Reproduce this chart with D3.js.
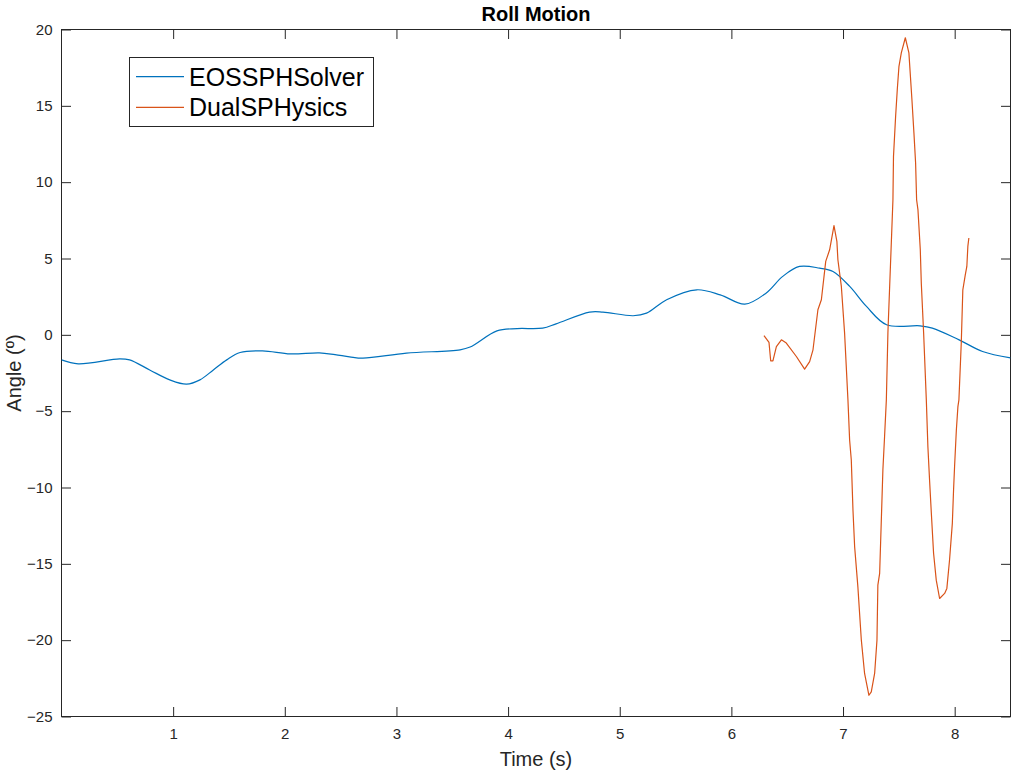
<!DOCTYPE html>
<html>
<head>
<meta charset="utf-8">
<script src="https://cdn.jsdelivr.net/npm/d3@7"></script>
<style>
  html, body { margin: 0; padding: 0; background: #fff; }
  svg { display: block; font-family: "Liberation Sans", Arial, Helvetica, sans-serif; }
</style>
</head>
<body>
<svg id="chart" width="1012" height="774"></svg>
<script>
// ---- data ----
const title = "Roll Motion";
const xLabel = "Time (s)";
const yLabel = "Angle (\u00BA)";
const seriesNames = ["EOSSPHSolver", "DualSPHysics"];
const seriesColors = ["#0072BD", "#D95319"];
const xTicks = [1, 2, 3, 4, 5, 6, 7, 8];
const yTicks = [-25, -20, -15, -10, -5, 0, 5, 10, 15, 20];

const eosTime = [0, 0.15, 0.52, 0.61, 0.79, 0.97, 1.12, 1.24, 1.36, 1.48, 1.6, 1.8, 2.05, 2.31, 2.45, 2.58, 2.7, 3.09, 3.57, 3.66, 3.9, 4.08, 4.31, 4.43, 4.73, 4.85, 5.12, 5.24, 5.42, 5.69, 5.9, 6.12, 6.31, 6.46, 6.61, 6.79, 6.91, 7.06, 7.21, 7.39, 7.69, 7.8, 8.04, 8.25, 8.5];
const eosAngle = [-1.64, -1.9, -1.57, -1.64, -2.3, -2.95, -3.23, -2.95, -2.3, -1.64, -1.16, -1.05, -1.25, -1.18, -1.3, -1.44, -1.53, -1.2, -0.98, -0.8, 0.26, 0.41, 0.44, 0.72, 1.49, 1.49, 1.25, 1.42, 2.3, 2.95, 2.62, 2.01, 2.73, 3.83, 4.48, 4.37, 4.15, 3.17, 1.86, 0.66, 0.59, 0.44, -0.33, -1.09, -1.51];

const dualTime = [6.292, 6.337, 6.352, 6.372, 6.403, 6.448, 6.492, 6.582, 6.656, 6.701, 6.731, 6.775, 6.806, 6.845, 6.880, 6.919, 6.945, 6.954, 6.985, 7.014, 7.044, 7.059, 7.074, 7.089, 7.104, 7.133, 7.164, 7.193, 7.232, 7.253, 7.283, 7.304, 7.312, 7.328, 7.343, 7.357, 7.372, 7.388, 7.402, 7.447, 7.452, 7.471, 7.486, 7.501, 7.522, 7.558, 7.590, 7.617, 7.635, 7.650, 7.659, 7.671, 7.692, 7.701, 7.722, 7.746, 7.760, 7.775, 7.791, 7.811, 7.835, 7.865, 7.910, 7.930, 7.954, 7.979, 7.990, 7.999, 8.015, 8.029, 8.038, 8.059, 8.073, 8.095, 8.109, 8.118, 8.127];
const dualAngle = [-0.05, -0.50, -1.70, -1.70, -0.77, -0.33, -0.54, -1.42, -2.25, -1.75, -0.98, 1.64, 2.30, 4.81, 5.57, 7.15, 6.12, 4.92, 3.17, 0.11, -4.26, -6.89, -8.20, -11.48, -13.88, -16.51, -20.00, -22.18, -23.61, -23.39, -22.18, -20.00, -16.39, -15.63, -12.13, -8.85, -6.67, -4.26, 0.13, 8.85, 11.69, 14.31, 16.07, 17.59, 18.47, 19.46, 18.47, 15.41, 13.23, 11.26, 8.85, 8.20, 5.57, 3.39, 0.11, -4.26, -7.32, -9.51, -11.69, -14.31, -16.07, -17.27, -16.94, -16.61, -14.75, -12.35, -10.16, -8.64, -6.23, -4.70, -4.26, -0.54, 2.95, 3.93, 4.48, 5.79, 6.34];

// ---- layout ----
const margin = { left: 61.5, right: 1010.5, top: 29.5, bottom: 716.5 };
const svg = d3.select("#chart");
const axisColor = "#262626";

const x = d3.scaleLinear().domain([0, 8.5]).range([margin.left, margin.right]);
const y = d3.scaleLinear().domain([-25, 20]).range([margin.bottom, margin.top]);

const tickLen = 9.5;

// box
svg.append("rect")
  .attr("x", margin.left).attr("y", margin.top)
  .attr("width", margin.right - margin.left).attr("height", margin.bottom - margin.top)
  .attr("fill", "#fff").attr("stroke", axisColor).attr("stroke-width", 1);

function styleAxis(g) {
  g.select(".domain").remove();
  g.selectAll(".tick line").attr("stroke", axisColor).attr("stroke-width", 1);
  g.selectAll(".tick text").attr("fill", axisColor).attr("font-size", 15)
    .attr("font-family", "'Liberation Sans', Arial, Helvetica, sans-serif");
}

// bottom
svg.append("g").attr("transform", `translate(0,${margin.bottom})`)
  .call(d3.axisBottom(x).tickValues(xTicks).tickSizeInner(-tickLen).tickSizeOuter(0).tickPadding(12).tickFormat(d3.format("d")))
  .call(styleAxis);
// top
svg.append("g").attr("transform", `translate(0,${margin.top})`)
  .call(d3.axisTop(x).tickValues(xTicks).tickSizeInner(-tickLen).tickSizeOuter(0).tickFormat(""))
  .call(styleAxis);
// left
svg.append("g").attr("transform", `translate(${margin.left},0)`)
  .call(d3.axisLeft(y).tickValues(yTicks).tickSizeInner(-tickLen).tickSizeOuter(0).tickPadding(9).tickFormat(d3.format("d")))
  .call(styleAxis);
// right
svg.append("g").attr("transform", `translate(${margin.right},0)`)
  .call(d3.axisRight(y).tickValues(yTicks).tickSizeInner(-tickLen).tickSizeOuter(0).tickFormat(""))
  .call(styleAxis);

// lines
svg.append("clipPath").attr("id", "plotclip").append("rect")
  .attr("x", margin.left).attr("y", margin.top)
  .attr("width", margin.right - margin.left).attr("height", margin.bottom - margin.top);

const eosData = eosTime.map((t, i) => [t, eosAngle[i]]);
const dualData = dualTime.map((t, i) => [t, dualAngle[i]]);

svg.append("path").datum(eosData)
  .attr("clip-path", "url(#plotclip)")
  .attr("fill", "none").attr("stroke", seriesColors[0]).attr("stroke-width", 1.2)
  .attr("d", d3.line().x(d => x(d[0])).y(d => y(d[1])).curve(d3.curveCatmullRom.alpha(0.5)));

svg.append("path").datum(dualData)
  .attr("clip-path", "url(#plotclip)")
  .attr("fill", "none").attr("stroke", seriesColors[1]).attr("stroke-width", 1.2)
  .attr("stroke-linejoin", "round")
  .attr("d", d3.line().x(d => x(d[0])).y(d => y(d[1])));

// title
svg.append("text").attr("x", (margin.left + margin.right) / 2).attr("y", 21)
  .attr("text-anchor", "middle").attr("font-size", 20).attr("font-weight", "bold")
  .attr("fill", "#000").text(title);

// x label
svg.append("text").attr("x", (margin.left + margin.right) / 2).attr("y", 766)
  .attr("text-anchor", "middle").attr("font-size", 20).attr("fill", axisColor).text(xLabel);

// y label
svg.append("text").attr("transform", `translate(21,${(margin.top + margin.bottom) / 2}) rotate(-90)`)
  .attr("text-anchor", "middle").attr("font-size", 20).attr("fill", axisColor).text(yLabel);

// legend
const leg = svg.append("g");
leg.append("rect").attr("x", 129.5).attr("y", 57.5).attr("width", 244).attr("height", 69)
  .attr("fill", "#fff").attr("stroke", axisColor).attr("stroke-width", 1);
const legRows = [76.7, 107.3];
seriesNames.forEach((name, i) => {
  leg.append("line").attr("x1", 136).attr("x2", 184).attr("y1", legRows[i]).attr("y2", legRows[i])
    .attr("stroke", seriesColors[i]).attr("stroke-width", 1.2);
  leg.append("text").attr("x", 189).attr("y", legRows[i] + 8.8)
    .attr("font-size", 25).attr("fill", "#000").text(name);
});
</script>
</body>
</html>
